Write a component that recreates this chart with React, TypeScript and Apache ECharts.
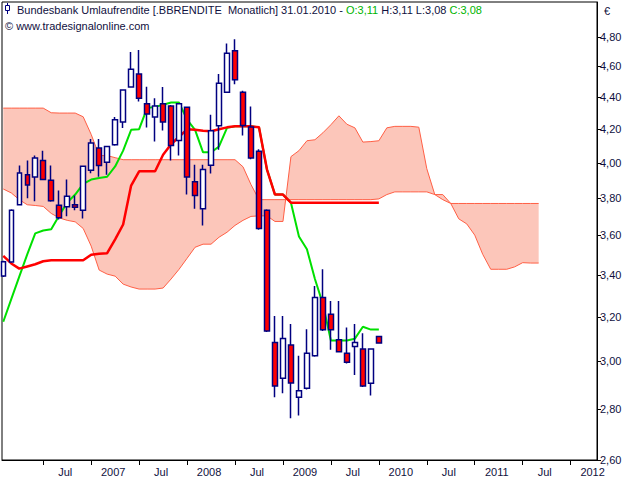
import React, { useEffect, useRef } from "react";
import * as echarts from "echarts";

// Month index: 0 = Jan 2006
const FIRST_MONTH = 1; // Feb 2006
const OPEN = [3.395, 3.464, 3.764, 3.932, 3.919, 4.014, 3.9, 3.762, 3.753, 3.764, 3.734, 3.957, 4.087, 4.003, 4.106, 4.243, 4.464, 4.55, 4.357, 4.274, 4.357, 4.344, 4.132, 4.336, 3.891, 3.742, 3.986, 4.221, 4.431, 4.706, 4.431, 4.213, 4.067, 3.734, 3.083, 2.927, 3.072, 2.848, 2.885, 3.024, 3.29, 3.212, 3.095, 3.035, 3.065, 3.054, 2.906, 3.11];
const CLOSE = [3.466, 3.734, 3.942, 3.874, 4.028, 3.904, 3.786, 3.694, 3.811, 3.751, 3.98, 4.117, 3.984, 4.096, 4.258, 4.446, 4.581, 4.393, 4.293, 4.344, 4.243, 4.102, 4.357, 3.919, 3.815, 3.961, 4.19, 4.489, 4.688, 4.511, 4.223, 4.028, 3.637, 3.135, 2.894, 3.101, 2.907, 2.875, 3.035, 3.29, 3.14, 3.14, 3.042, 2.996, 3.083, 2.894, 3.054, 3.08];
const LOW = [3.39, 3.46, 3.76, 3.8, 3.783, 3.9, 3.78, 3.684, 3.702, 3.734, 3.69, 3.94, 3.92, 3.932, 4.1, 4.207, 4.46, 4.371, 4.21, 4.126, 4.192, 4.014, 4.042, 3.82, 3.742, 3.653, 3.938, 4.077, 4.43, 4.483, 4.162, 4.02, 3.63, 3.13, 2.848, 2.864, 2.762, 2.773, 2.88, 3.02, 3.135, 3.05, 3.04, 2.99, 2.941, 2.89, 2.855, 3.08];
const HIGH = [3.47, 3.74, 3.984, 4.013, 4.043, 4.071, 3.984, 3.842, 3.904, 3.815, 3.985, 4.14, 4.14, 4.1, 4.274, 4.45, 4.697, 4.711, 4.467, 4.393, 4.464, 4.35, 4.36, 4.34, 3.989, 3.989, 4.288, 4.55, 4.756, 4.784, 4.44, 4.34, 4.08, 3.74, 3.204, 3.204, 3.166, 3.024, 3.143, 3.346, 3.428, 3.274, 3.274, 3.151, 3.166, 3.124, 3.054, 3.11];

const TENKAN = [3.177, 3.283, 3.392, 3.503, 3.611, 3.626, 3.633, 3.706, 3.776, 3.82, 3.88, 3.904, 3.913, 3.92, 3.979, 4.071, 4.196, 4.2, 4.33, 4.338, 4.351, 4.365, 4.365, 4.258, 4.196, 4.061, 4.061, 4.096, 4.208, 4.217, 4.217, 4.217, 4.211, 3.961, 3.82, 3.82, 3.775, 3.595, 3.529, 3.38, 3.259, 3.092, 3.092, 3.092, 3.1, 3.154, 3.141, 3.141];
const KIJUN = [3.495, 3.457, 3.431, 3.442, 3.453, 3.468, 3.473, 3.473, 3.473, 3.473, 3.473, 3.501, 3.506, 3.509, 3.58, 3.658, 3.87, 3.951, 3.951, 3.951, 4.047, 4.109, 4.154, 4.199, 4.196, 4.19, 4.187, 4.199, 4.211, 4.217, 4.217, 4.217, 4.211, 3.961, 3.82, 3.82, 3.775, 3.775, 3.775, 3.775, 3.775, 3.775, 3.775, 3.775, 3.775, 3.775, 3.775, 3.775];

const SPAN_A = [4.33, 4.33, 4.33, 4.33, 4.33, 4.33, 4.301, 4.299, 4.299, 4.299, 4.276, 4.168, 4.042, 4.042, 4.03, 4.018, 4.018, 4.018, 4.018, 4.018, 4.018, 4.018, 4.018, 4.018, 4.018, 4.018, 4.018, 4.018, 4.018, 4.018, 3.977, 3.876, 3.792, 3.792, 3.792, 3.792, 3.792, 3.792, 3.792, 3.792, 3.792, 3.792, 3.792, 3.792, 3.792, 3.792, 3.792, 3.796, 3.82, 3.835, 3.835, 3.835, 3.835, 3.835, 3.82, 3.82, 3.771, 3.771, 3.771, 3.771, 3.771, 3.771, 3.771, 3.771, 3.771, 3.771, 3.771, 3.771];
const SPAN_B = [3.851, 3.829, 3.792, 3.764, 3.76, 3.755, 3.717, 3.693, 3.68, 3.672, 3.637, 3.545, 3.424, 3.404, 3.394, 3.355, 3.341, 3.331, 3.331, 3.331, 3.336, 3.38, 3.428, 3.483, 3.539, 3.555, 3.555, 3.591, 3.617, 3.653, 3.68, 3.701, 3.704, 3.704, 3.674, 3.674, 4.036, 4.071, 4.13, 4.136, 4.178, 4.227, 4.282, 4.23, 4.208, 4.122, 4.125, 4.13, 4.208, 4.217, 4.217, 4.217, 4.212, 3.966, 3.82, 3.792, 3.771, 3.688, 3.661, 3.602, 3.503, 3.428, 3.428, 3.428, 3.44, 3.461, 3.459, 3.459];

const X_TICKS = [6, 12, 18, 24, 30, 36, 42, 48, 54, 60, 66, 72];
const Y_TICKS = [2.6, 2.8, 3.0, 3.2, 3.4, 3.6, 3.8, 4.0, 4.2, 4.4, 4.6, 4.8];

const FONT = "'Liberation Sans', Arial, sans-serif";
const NAVY = "#000080";
const TXT = "#101040";

const month = (k: number) => FIRST_MONTH + k;

export default function App() {
  const ref = useRef<HTMLDivElement>(null);
  useEffect(() => {
    if (!ref.current) return;
    const chart = echarts.init(ref.current, undefined, { renderer: "svg" });
    const candles = OPEN.map((o, k) => [month(k), o, CLOSE[k], LOW[k], HIGH[k]]);
    const cloudRows = SPAN_A.map((a, k) => [month(k), a, SPAN_B[k]]);
    const lineData = (arr: number[]) => arr.map((v, k) => [month(k), v]);
    chart.setOption({
      animation: false,
      backgroundColor: "#ffffff",
      grid: {
        left: 2,
        top: 2,
        width: 595,
        height: 458,
        show: true,
        borderColor: "#000",
        borderWidth: 1,
        backgroundColor: "#fff",
      },
      xAxis: {
        type: "value",
        min: 0.84,
        max: 75.3,
        axisLine: { show: true, lineStyle: { color: "#000", width: 1 } },
        axisTick: { show: true, customValues: X_TICKS, length: 5, lineStyle: { color: "#000" } },
        axisLabel: {
          customValues: X_TICKS,
          formatter: (v: number) => (Math.round(v) % 12 === 0 ? String(2006 + Math.round(v) / 12) : "Jul"),
          color: TXT,
          fontSize: 11,
          fontFamily: FONT,
          padding: [0, 0, 0, 44],
          margin: 6,
        },
        splitLine: { show: false },
      },
      yAxis: {
        type: "log",
        logBase: 10,
        position: "right",
        min: 2.6,
        max: 5.05,
        axisLine: { show: true, lineStyle: { color: "#000", width: 1 } },
        axisTick: { show: true, customValues: Y_TICKS, length: 4, lineStyle: { color: "#000" } },
        axisLabel: {
          customValues: Y_TICKS,
          formatter: (v: number) => v.toFixed(2).replace(".", ","),
          color: TXT,
          fontSize: 11,
          fontFamily: FONT,
          margin: 3,
        },
        splitLine: { show: false },
      },
      series: [
        {
          type: "custom",
          data: cloudRows,
          encode: { x: 0, y: [1, 2] },
          silent: true,
          z: 1,
          renderItem: (params: any, api: any) => {
            if (params.dataIndex !== 0) return null;
            const pts: number[][] = [];
            for (let k = 0; k < cloudRows.length; k++) pts.push(api.coord([cloudRows[k][0], cloudRows[k][1]]));
            for (let k = cloudRows.length - 1; k >= 0; k--) pts.push(api.coord([cloudRows[k][0], cloudRows[k][2]]));
            return {
              type: "polygon",
              shape: { points: pts },
              style: { fill: "#fcc6ba", stroke: "none" },
            };
          },
        },
        {
          type: "line",
          data: lineData(SPAN_A),
          symbol: "none",
          lineStyle: { color: "#ff5f45", width: 1 },
          z: 2,
        },
        {
          type: "line",
          data: lineData(SPAN_B),
          symbol: "none",
          lineStyle: { color: "#ff5f45", width: 1 },
          z: 2,
        },
        {
          type: "line",
          data: lineData(TENKAN),
          symbol: "none",
          lineStyle: { color: "#00e000", width: 2 },
          z: 3,
        },
        {
          type: "line",
          data: lineData(KIJUN),
          symbol: "none",
          lineStyle: { color: "#ff0000", width: 2.5 },
          z: 4,
        },
        {
          type: "candlestick",
          data: candles,
          encode: { x: 0, y: [1, 2, 3, 4] },
          barWidth: 5,
          itemStyle: {
            color: "#ffffff",
            color0: "#ff0000",
            borderColor: NAVY,
            borderColor0: NAVY,
            borderWidth: 1.5,
          },
          z: 5,
        },
      ],
      graphic: [
        { type: "line", shape: { x1: 7.5, y1: 3, x2: 7.5, y2: 14 }, style: { stroke: NAVY, lineWidth: 1 }, z: 10 },
        { type: "rect", shape: { x: 5.5, y: 5.5, width: 4, height: 5 }, style: { fill: "#fff", stroke: NAVY, lineWidth: 1 }, z: 11 },
        {
          type: "text",
          x: 17,
          y: 10,
          z: 10,
          style: {
            text: "{n|Bundesbank Umlaufrendite [.BBRENDITE  Monatlich] 31.01.2010 - }{g|O:3,11}{n| H:3,11 L:3,08 }{g|C:3,08}",
            verticalAlign: "middle",
            rich: {
              n: { fill: TXT, color: TXT, fontSize: 11, fontFamily: FONT },
              g: { fill: "#00b400", color: "#00b400", fontSize: 11, fontFamily: FONT },
            },
          },
        },
        {
          type: "text",
          x: 5,
          y: 26,
          z: 10,
          style: { text: "© www.tradesignalonline.com", fill: TXT, fontSize: 11, fontFamily: FONT, verticalAlign: "middle" },
        },
        {
          type: "text",
          x: 604,
          y: 11,
          z: 10,
          style: { text: "€", fill: TXT, fontSize: 11, fontFamily: FONT, verticalAlign: "middle" },
        },
      ],
    });
    return () => chart.dispose();
  }, []);
  return (
    <div
      ref={ref}
      style={{ position: "fixed", left: 0, top: 0, width: 640, height: 480, background: "#fff" }}
    />
  );
}
